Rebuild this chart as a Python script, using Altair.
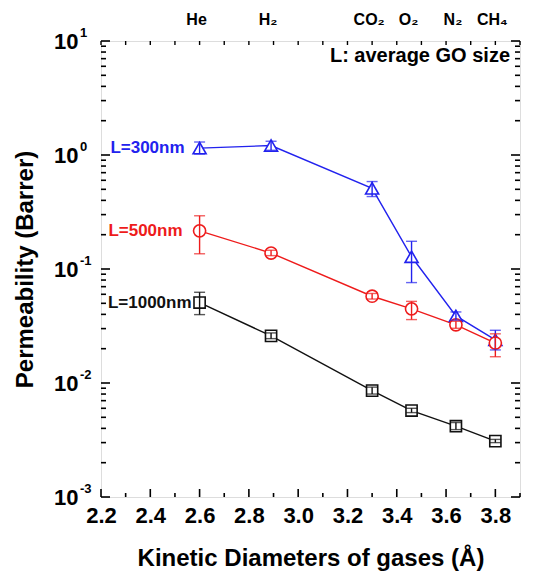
import altair as alt
import pandas as pd

# Kinetic diameters (Å) of the probe gases
diam = [2.60, 2.89, 3.30, 3.46, 3.64, 3.80]
gases = ["He", "H₂", "CO₂", "O₂", "N₂", "CH₄"]

series = ["L=300nm", "L=500nm", "L=1000nm"]
colors = ["#2222ee", "#ee1b1b", "#111111"]
shapes = ["triangle-up", "circle", "square"]
sizes = [170, 125, 95]
label_dx = [-15, -17, -8]

# Permeability (Barrer) with lower / upper error limits
perm_300 = [1.15, 1.21, 0.51, 0.128, 0.0388, 0.0239]
lo_300 = [1.02, 1.10, 0.432, 0.076, 0.0355, 0.0195]
hi_300 = [1.30, 1.32, 0.585, 0.175, 0.0420, 0.0290]

perm_500 = [0.216, 0.138, 0.0577, 0.0447, 0.0324, 0.0224]
lo_500 = [0.136, 0.131, 0.0545, 0.0360, 0.0302, 0.0170]
hi_500 = [0.293, 0.146, 0.0610, 0.0520, 0.0348, 0.0270]

perm_1000 = [0.0508, 0.0259, 0.00857, 0.00573, 0.00418, 0.00309]
lo_1000 = [0.0398, 0.0245, 0.0080, 0.0055, 0.0039, 0.0030]
hi_1000 = [0.0625, 0.0275, 0.0092, 0.0060, 0.0045, 0.0032]

decades = [0.001, 0.01, 0.1, 1, 10]
exponents = ["-3", "-2", "-1", "0", "1"]
minor_y = [m * d for d in [0.001, 0.01, 0.1, 1] for m in range(2, 10)]
x_major = [round(2.2 + 0.2 * i, 1) for i in range(9)]
x_minor = [round(2.3 + 0.2 * i, 1) for i in range(9)]
x_top = sorted(x_major + x_minor)

W, H = 419, 456
FONT = "Liberation Sans"

rows = []
for s, p, lo, hi in zip(series,
                        [perm_300, perm_500, perm_1000],
                        [lo_300, lo_500, lo_1000],
                        [hi_300, hi_500, hi_1000]):
    for xi, pi, l, h in zip(diam, p, lo, hi):
        rows.append({"series": s, "d": xi, "p": pi, "lo": l, "hi": h})
df = pd.DataFrame(rows)

x_scale = alt.Scale(domain=[2.2, 3.9], nice=False, zero=False)
y_scale = alt.Scale(type="log", domain=[0.001, 10], nice=False)

x_axis = alt.Axis(
    values=x_major, format=".1f", labelFont=FONT, labelFontSize=22,
    labelFontWeight="bold", labelColor="black", labelPadding=8,
    labelFlush=False, labelOverlap=False,
    ticks=False, tickSize=0, domain=False, grid=False,
    title="Kinetic Diameters of gases (Å)", titleFont=FONT, titleFontSize=24,
    titleFontWeight="bold", titleColor="black", titleY=68,
    titleBaseline="alphabetic",
)
y_axis = alt.Axis(
    values=decades, labelExpr="'10'", labelFont=FONT, labelFontSize=22,
    labelFontWeight="bold", labelColor="black", labelPadding=23,
    labelFlush=False, labelOverlap=False,
    ticks=False, tickSize=0, domain=False, grid=False,
    title="Permeability (Barrer)", titleFont=FONT, titleFontSize=24,
    titleFontWeight="bold", titleColor="black", titleX=-76, titleY=H / 2,
    titleAngle=270, titleAlign="center", titleBaseline="middle",
)

X = alt.X("d:Q", scale=x_scale, axis=x_axis)
Y = alt.Y("p:Q", scale=y_scale, axis=y_axis)
color = alt.Color("series:N", scale=alt.Scale(domain=series, range=colors), legend=None)

base = alt.Chart(df)

lines = base.mark_line(strokeWidth=1.4).encode(x=X, y=Y, color=color, detail="series:N")

points = base.mark_point(fill="white", fillOpacity=1, opacity=1, strokeWidth=1.6).encode(
    x=X, y=Y, color=color,
    shape=alt.Shape("series:N", scale=alt.Scale(domain=series, range=shapes), legend=None),
    size=alt.Size("series:O", scale=alt.Scale(domain=series, range=sizes), legend=None),
)

err = base.mark_rule(strokeWidth=1.4).encode(
    x=X, y=alt.Y("lo:Q", scale=y_scale, axis=y_axis), y2="hi:Q", color=color
)
cap_lo = base.mark_tick(orient="horizontal", size=11, thickness=1.4).encode(
    x=X, y=alt.Y("lo:Q", scale=y_scale, axis=y_axis), color=color
)
cap_hi = base.mark_tick(orient="horizontal", size=11, thickness=1.4).encode(
    x=X, y=alt.Y("hi:Q", scale=y_scale, axis=y_axis), color=color
)

# series name next to the He point of each curve
labels = []
for s, c, dx in zip(series, colors, label_dx):
    sub = df[(df["series"] == s) & (df["d"] == diam[0])]
    labels.append(
        alt.Chart(sub).mark_text(
            align="right", baseline="middle", dx=dx, font=FONT, fontSize=17,
            fontWeight="bold", color=c,
        ).encode(x=X, y=Y, text="series:N")
    )

# gas names above the frame
gas_df = pd.DataFrame({"d": diam, "gas": gases})
gas_text = alt.Chart(gas_df).mark_text(
    align="center", baseline="alphabetic", dx=-3, font=FONT, fontSize=16,
    fontWeight="bold", color="black",
).encode(x=alt.X("d:Q", scale=x_scale, axis=x_axis), y=alt.value(-16), text="gas:N")

note = alt.Chart(pd.DataFrame({"t": ["L: average GO size"]})).mark_text(
    align="right", baseline="middle", font=FONT, fontSize=20, fontWeight="bold", color="black",
).encode(x=alt.value(W - 10), y=alt.value(15), text="t:N")

# exponents of the decade labels
exp_df = pd.DataFrame({"p": decades, "e": exponents})
exp_text = alt.Chart(exp_df).mark_text(
    align="left", baseline="middle", dy=-8, font=FONT, fontSize=13,
    fontWeight="bold", color="black",
).encode(x=alt.value(-21), y=Y, text="e:N")

# inward tick marks on all four sides
ymaj = pd.DataFrame({"p": decades})
ymin = pd.DataFrame({"p": minor_y})
xmaj = pd.DataFrame({"d": x_major})
xmin = pd.DataFrame({"d": x_minor})
xtop = pd.DataFrame({"d": x_top})

tick_layers = []
for data, ln in [(ymaj, 9), (ymin, 5)]:
    tick_layers.append(alt.Chart(data).mark_rule(color="black", strokeWidth=1.6).encode(
        x=alt.value(0), x2=alt.value(ln), y=Y))
    tick_layers.append(alt.Chart(data).mark_rule(color="black", strokeWidth=1.6).encode(
        x=alt.value(W), x2=alt.value(W - ln), y=Y))
for data, ln in [(xmaj, 8), (xmin, 4)]:
    tick_layers.append(alt.Chart(data).mark_rule(color="black", strokeWidth=1.6).encode(
        x=X, y=alt.value(H), y2=alt.value(H - ln)))
tick_layers.append(alt.Chart(xtop).mark_rule(color="black", strokeWidth=1.4).encode(
    x=X, y=alt.value(0), y2=alt.value(4)))

chart = alt.layer(
    *tick_layers, lines, points, err, cap_lo, cap_hi, *labels, gas_text, note, exp_text
).properties(
    width=W, height=H,
    autosize=alt.AutoSizeParams(type="none"),
    padding={"left": 101, "top": 41, "right": 21, "bottom": 76},
).configure_view(
    stroke="black", strokeWidth=2.6
).configure(background="white")

chart.save("out.html", embed_options={"renderer": "svg", "actions": False})
